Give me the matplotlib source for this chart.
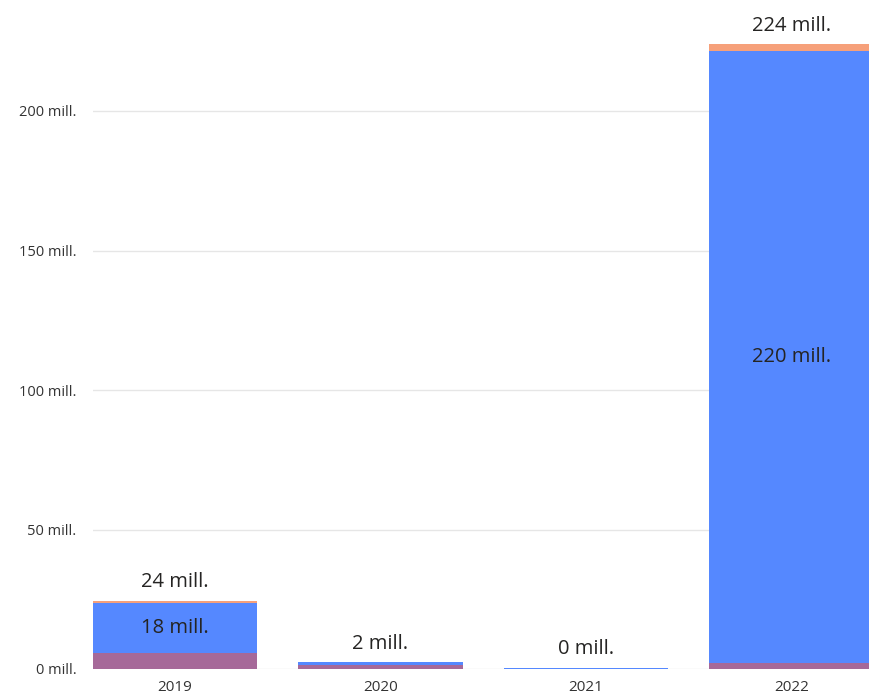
import matplotlib.pyplot as plt
import numpy as np

# données (millions)
years = ["2019", "2020", "2021", "2022"]
purple_vals = [5.6, 1.6, 0.0, 2.0]
blue_vals = [18.2, 0.8, 0.3, 219.6]
orange_vals = [0.6, 0.0, 0.0, 2.3]
ticks = [0, 50, 100, 150, 200]

c_purple = "#A66999"
c_blue = "#5588FF"
c_orange = "#F6A07A"

plt.rcParams['font.family'] = ['Open Sans', 'DejaVu Sans']

fig = plt.figure(figsize=(8.69, 6.94), dpi=100)
# zone du graphique en pixels : gauche 93, bas 25 (depuis le bas), jusqu'au bord droit / haut
ax = fig.add_axes([93 / 869, 25 / 694, 1 - 93 / 869, 1 - 25 / 694])

x = np.arange(len(years))
w = 0.8
purple = np.array(purple_vals)
blue = np.array(blue_vals)
orange = np.array(orange_vals)
total = purple + blue + orange

ax.bar(x, purple, w, color=c_purple, zorder=2)
ax.bar(x, blue, w, bottom=purple, color=c_blue, zorder=2)
ax.bar(x, orange, w, bottom=purple + blue, color=c_orange, zorder=2)

# étiquettes
for i in range(len(years)):
    ax.annotate(f"{round(total[i]):.0f} mill.", (x[i], total[i]), xytext=(0, 13.5),
                textcoords="offset points", ha="center", va="center",
                fontsize=14.5, color="#252423")
    if blue[i] > 10:
        ax.text(x[i], purple[i] + blue[i] / 2, f"{round(blue[i]):.0f} mill.",
                ha="center", va="center", fontsize=14.5, color="#252423", zorder=3)

ax.set_xlim((93 - 175) / 205.5, (869 - 175) / 205.5)
ax.set_ylim(0, 669 / 2.79)
ax.set_yticks(ticks)
ax.set_yticklabels([f"{t} mill." for t in ticks], fontsize=10.5, color="#333333")
ax.set_xticks(x)
ax.set_xticklabels(years, fontsize=11, color="#333333")
ax.tick_params(length=0, axis="y", pad=12)
ax.tick_params(length=0, axis="x", pad=8)
ax.grid(axis="y", color="#E6E6E6", linewidth=1, zorder=0)
for s in ax.spines.values():
    s.set_visible(False)

plt.savefig("out.png", dpi=100)
plt.close()
